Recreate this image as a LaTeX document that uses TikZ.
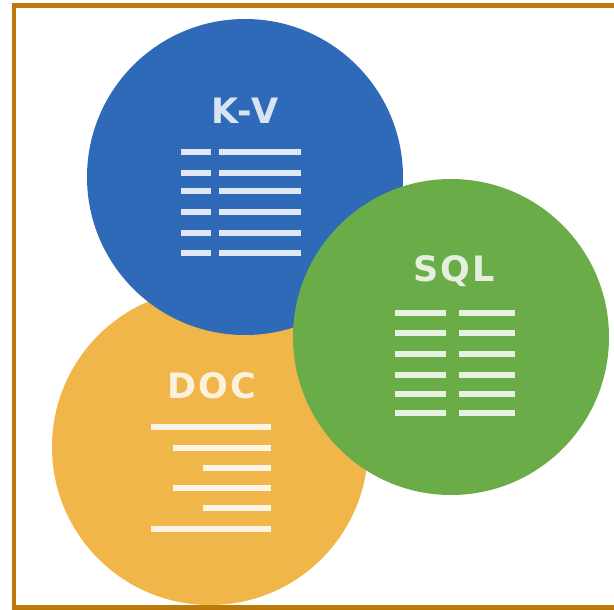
\documentclass[tikz,border=0pt]{standalone}
\usepackage{fontspec}
\setmainfont{DejaVu Sans}
\definecolor{kvblue}{RGB}{46,106,184}
\definecolor{sqlgreen}{RGB}{106,172,71}
\definecolor{docorange}{RGB}{240,182,74}
\definecolor{framebrown}{RGB}{187,122,10}
\begin{document}
\begin{tikzpicture}[x=1pt,y=-1pt,
  disc/.style={circle,draw=none,inner sep=0pt,minimum size=316pt},
  lbl/.style={text=white,text opacity=0.82,font=\fontsize{35}{35}\selectfont\bfseries\addfontfeature{LetterSpace=6},inner sep=0pt},
  bar/.style={draw=white,draw opacity=0.85,line width=6.5pt,line cap=butt},
  frameline/.style={draw=framebrown,line width=4.5pt}]
\useasboundingbox (0,0) rectangle (614,610);
% circles (orange bottom, blue middle, green top)
\node[disc,fill=docorange] (doc) at (210,447) {};
\node[disc,fill=kvblue] (kv) at (245,177) {};
\node[disc,fill=sqlgreen] (sql) at (451,337) {};
% labels
\node[lbl] (kvt) at (245,111) {K-V};
\node[lbl] (sqlt) at (454,271) {SQL};
\node[lbl] (doct) at (212,386) {DOC};
% K-V bars
\foreach \y in {152,173,191,212,233,253}{
  \draw[bar] (181,\y) -- (211,\y);
  \draw[bar] (219,\y) -- (301,\y);
}
% SQL bars
\foreach \y in {313,333,354,375,394,413}{
  \draw[bar] (395,\y) -- (446,\y);
  \draw[bar] (459,\y) -- (515,\y);
}
% DOC bars
\foreach \y/\x in {427/151,448/173,468/203,488/173,508/203,529/151}{
  \draw[bar] (\x,\y) -- (271,\y);
}
% frame
\draw[frameline] (14,5.5) -- (640,5.5);
\draw[frameline] (14,3) -- (14,610);
\draw[frameline] (12,607.5) -- (640,607.5);
\end{tikzpicture}
\end{document}
